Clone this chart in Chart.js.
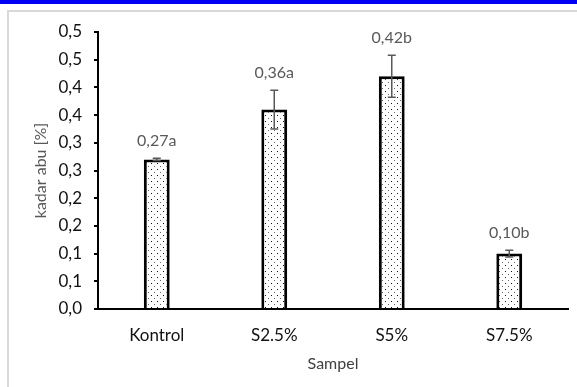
<!DOCTYPE html>
<html>
<head>
<meta charset="utf-8">
<script src="https://cdn.jsdelivr.net/npm/chart.js@4.4.0/dist/chart.umd.min.js"></script>
<style>
    html, body { margin: 0; padding: 0; background: #fff; overflow: hidden; }
    #band { position: absolute; left: 0; top: 0; width: 577px; height: 4px; background: #0000f5; }
    #frame { position: absolute; left: 7px; top: 10px; width: 600px; height: 400px; border-left: 2px solid #d9d9d9; border-top: 2px solid #d9d9d9; }
    #wrap { position: absolute; left: 0; top: 0; width: 577px; height: 387px; }
</style>
</head>
<body>
<div id="band"></div>
<div id="frame"></div>
<div id="wrap"><canvas id="ashChart" width="577" height="387"></canvas></div>
<script>
const categories = ['Kontrol', 'S2.5%', 'S5%', 'S7.5%'];
const ashValues = [0.27, 0.36, 0.42, 0.10];
const ashErrors = [0.002, 0.035, 0.038, 0.006];
const letters = ['a', 'a', 'b', 'b'];
const yTickLabels = ['0,0', '0,1', '0,1', '0,2', '0,2', '0,3', '0,3', '0,4', '0,4', '0,5', '0,5'];

document.addEventListener('DOMContentLoaded', function () {
    const canvas = document.getElementById('ashChart');
    const ctx = canvas.getContext('2d');

    // dotted fill like the excel pattern
    const tile = document.createElement('canvas');
    tile.width = 6;
    tile.height = 6;
    const tctx = tile.getContext('2d');
    tctx.fillStyle = '#ffffff';
    tctx.fillRect(0, 0, 6, 6);
    tctx.fillStyle = '#111111';
    tctx.fillRect(1, 1, 1, 1);
    tctx.fillStyle = '#666666';
    tctx.fillRect(4, 4, 1, 1);
    const dots = ctx.createPattern(tile, 'repeat');

    const errorAndLabels = {
        id: 'errorAndLabels',
        afterDatasetsDraw(chart) {
            const c = chart.ctx;
            const meta = chart.getDatasetMeta(0);
            const y = chart.scales.y;
            c.save();
            meta.data.forEach((bar, i) => {
                const top = y.getPixelForValue(ashValues[i] + ashErrors[i]);
                const bottom = y.getPixelForValue(ashValues[i] - ashErrors[i]);
                c.strokeStyle = '#595959';
                c.lineWidth = 1.5;
                c.beginPath();
                c.moveTo(bar.x, top);
                c.lineTo(bar.x, bottom);
                c.moveTo(bar.x - 4, top);
                c.lineTo(bar.x + 4, top);
                c.moveTo(bar.x - 4, bottom);
                c.lineTo(bar.x + 4, bottom);
                c.stroke();

                c.fillStyle = '#595959';
                c.font = '16px Lato';
                c.textAlign = 'center';
                c.textBaseline = 'middle';
                const txt = ashValues[i].toFixed(2).replace('.', ',') + letters[i];
                c.fillText(txt, bar.x, top - 17);
            });
            c.restore();
        }
    };

    new Chart(ctx, {
        type: 'bar',
        data: {
            labels: categories,
            datasets: [{
                label: 'kadar abu',
                data: ashValues,
                backgroundColor: dots,
                borderColor: '#000000',
                borderWidth: 3,
                barPercentage: 0.22,
                categoryPercentage: 1
            }]
        },
        options: {
            responsive: false,
            animation: false,
            layout: {
                padding: { left: 0, top: 32, right: 9, bottom: 0 }
            },
            scales: {
                x: {
                    afterFit: (s) => { s.height = 78; },
                    grid: { drawOnChartArea: false, drawTicks: false },
                    border: { color: '#000000', width: 2 },
                    ticks: {
                        color: '#111111',
                        font: { family: 'Lato', size: 17 },
                        padding: 16
                    },
                    title: {
                        display: true,
                        text: 'Sampel',
                        color: '#404040',
                        font: { family: 'Lato', size: 16 },
                        padding: { top: 0, bottom: 14 }
                    }
                },
                y: {
                    min: 0,
                    max: 0.5,
                    afterFit: (s) => { s.width = 98; },
                    afterBuildTicks: (s) => {
                        s.ticks = yTickLabels.map((_, i) => ({ value: i * 0.05 }));
                    },
                    grid: {
                        drawOnChartArea: false,
                        drawTicks: true,
                        tickLength: 4,
                        color: '#000000',
                        lineWidth: 2
                    },
                    border: { color: '#000000', width: 2 },
                    ticks: {
                        color: '#111111',
                        font: { family: 'Lato', size: 17 },
                        padding: 12,
                        callback: (v, i) => yTickLabels[i]
                    },
                    title: {
                        display: true,
                        text: 'kadar abu [%]',
                        color: '#595959',
                        font: { family: 'Lato', size: 16 },
                        padding: { top: 31, bottom: 0 }
                    }
                }
            },
            plugins: {
                legend: { display: false },
                tooltip: { enabled: false }
            }
        },
        plugins: [errorAndLabels]
    });
});
</script>
</body>
</html>
